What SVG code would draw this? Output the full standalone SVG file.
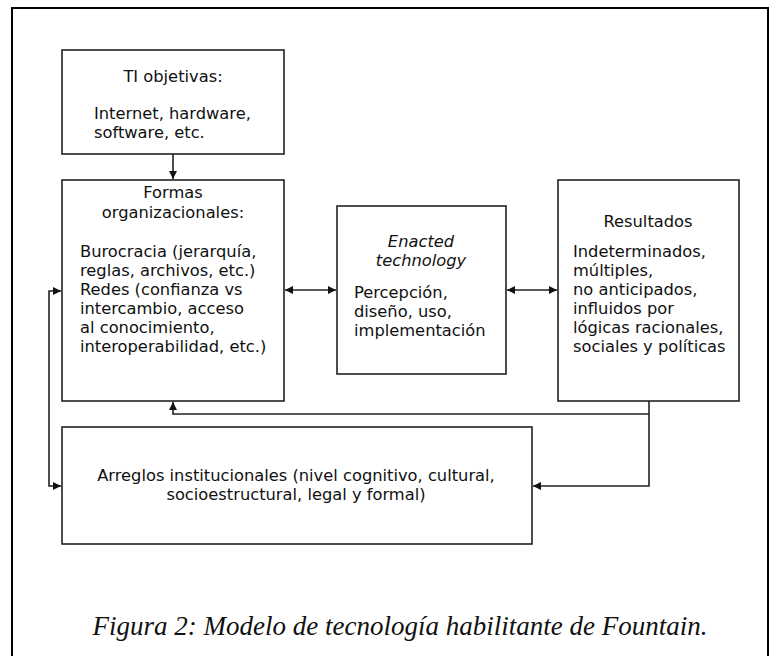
<svg xmlns="http://www.w3.org/2000/svg" width="780" height="656" viewBox="0 0 780 656">
<defs>
<marker id="ah" viewBox="0 0 10 10" refX="10" refY="5" markerWidth="10" markerHeight="8" markerUnits="userSpaceOnUse" orient="auto-start-reverse">
<path d="M0,0 L10,5 L0,10 Z" fill="#111"/>
</marker>
</defs>
<style>
.box{fill:#fff;stroke:#222;stroke-width:1.6}
.t{font-family:"DejaVu Sans",sans-serif;font-size:16.3px;fill:#111}
.c{text-anchor:middle}
.i{font-style:italic}
.conn{fill:none;stroke:#222;stroke-width:1.6}
.cap{font-family:"Liberation Serif",serif;font-style:italic;font-size:27px;fill:#111}
</style>
<rect x="0" y="0" width="780" height="656" fill="#fff"/>
<rect x="12" y="8" width="756" height="660" fill="none" stroke="#000" stroke-width="2"/>
<g id="ti">
<rect class="box" x="62" y="50" width="222" height="104"/>
<text class="t c" x="173" y="82">TI objetivas:</text>
<text class="t" x="94" y="119">Internet, hardware,</text>
<text class="t" x="94" y="138">software, etc.</text>
</g>
<g id="formas">
<rect class="box" x="62" y="180" width="222" height="221"/>
<text class="t c" x="173" y="198">Formas</text>
<text class="t c" x="173" y="218">organizacionales:</text>
<text class="t" x="80" y="257">Burocracia (jerarquía,</text>
<text class="t" x="80" y="276">reglas, archivos, etc.)</text>
<text class="t" x="80" y="295">Redes (confianza vs</text>
<text class="t" x="80" y="314">intercambio, acceso</text>
<text class="t" x="80" y="333">al conocimiento,</text>
<text class="t" x="80" y="352">interoperabilidad, etc.)</text>
</g>
<g id="enacted">
<rect class="box" x="337" y="206" width="169" height="168"/>
<text class="t c i" x="421" y="247">Enacted</text>
<text class="t c i" x="421" y="266">technology</text>
<text class="t" x="354" y="298">Percepción,</text>
<text class="t" x="354" y="317">diseño, uso,</text>
<text class="t" x="354" y="336">implementación</text>
</g>
<g id="resultados">
<rect class="box" x="558" y="180" width="181" height="221"/>
<text class="t c" x="648" y="227">Resultados</text>
<text class="t" x="573" y="257">Indeterminados,</text>
<text class="t" x="573" y="276">múltiples,</text>
<text class="t" x="573" y="295">no anticipados,</text>
<text class="t" x="573" y="314">influidos por</text>
<text class="t" x="573" y="333">lógicas racionales,</text>
<text class="t" x="573" y="352">sociales y políticas</text>
</g>
<g id="arreglos">
<rect class="box" x="62" y="427" width="470" height="117"/>
<text class="t c" x="296" y="481">Arreglos institucionales (nivel cognitivo, cultural,</text>
<text class="t c" x="296" y="500">socioestructural, legal y formal)</text>
</g>
<g id="connectors">
<path class="conn" d="M173,154 L173,179" marker-end="url(#ah)"/>
<path class="conn" d="M285,290 L336,290" marker-start="url(#ah)" marker-end="url(#ah)"/>
<path class="conn" d="M507,290 L557,290" marker-start="url(#ah)" marker-end="url(#ah)"/>
<path class="conn" d="M649,401 L649,486 L533,486" marker-end="url(#ah)"/>
<path class="conn" d="M649,414 L173,414 L173,402" marker-end="url(#ah)"/>
<path class="conn" d="M61,291 L49,291 L49,486 L61,486" marker-start="url(#ah)" marker-end="url(#ah)"/>
</g>
<text class="cap" x="400" y="635" text-anchor="middle">Figura 2: Modelo de tecnología habilitante de Fountain.</text>
</svg>
